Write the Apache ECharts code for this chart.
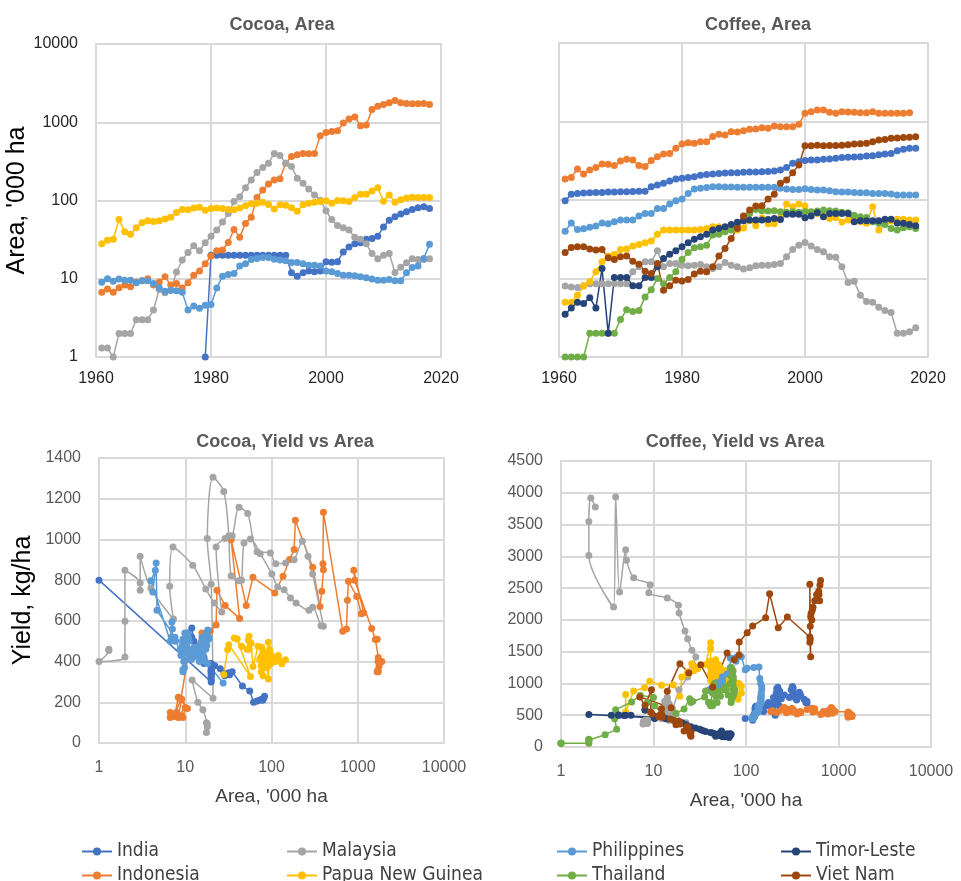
<!DOCTYPE html>
<html>
<head>
<meta charset="utf-8">
<script src="https://cdn.jsdelivr.net/npm/echarts@6/dist/echarts.min.js"></script>
<style>
  html, body { margin: 0; padding: 0; background: #fff; }
  #chart { width: 961px; height: 881px; }
</style>
</head>
<body>
<div id="chart"></div>
<script>
// years of the FAO series
const years = [
  1961, 1962, 1963, 1964, 1965, 1966, 1967, 1968, 1969, 1970,
  1971, 1972, 1973, 1974, 1975, 1976, 1977, 1978, 1979, 1980,
  1981, 1982, 1983, 1984, 1985, 1986, 1987, 1988, 1989, 1990,
  1991, 1992, 1993, 1994, 1995, 1996, 1997, 1998, 1999, 2000,
  2001, 2002, 2003, 2004, 2005, 2006, 2007, 2008, 2009, 2010,
  2011, 2012, 2013, 2014, 2015, 2016, 2017, 2018
]

// ---- cocoa, area ('000 ha) and yield (kg/ha) ----
const cocoaAreaIndia = [
  null, null, null, null, null, null, null, null, null, null,
  null, null, null, null, null, null, null, null, 1, 20,
  20, 20, 20, 20, 20, 20, 20, 20, 20, 20,
  20, 20, 20, 11.9, 10.8, 11.9, 12.6, 12.3, 12.6, 16.5,
  16.3, 16.5, 22, 25.5, 28, 28.8, 31.9, 32.7, 35, 46,
  56, 62, 67, 72, 77, 81, 83, 79
]
const cocoaYieldIndia = [
  null, null, null, null, null, null, null, null, null, null,
  null, null, null, null, null, null, null, null, 800, 300,
  320, 340, 360, 380, 390, 370, 350, 330, 310, 340,
  360, 380, 350, 520, 540, 565, 500, 450, 430, 420,
  400, 390, 380, 365, 340, 330, 345, 335, 350, 280,
  255, 200, 205, 210, 215, 220, 230, 210
]
const cocoaAreaIndonesia = [
  6.7, 7.4, 6.7, 7.7, 8.3, 7.9, 9.1, 9.4, 10, 8.3,
  9.1, 10.6, 8.3, 8.7, 7.6, 8.9, 11.1, 12.6, 15.6, 19.5,
  22.8, 23.3, 29, 42.7, 34, 51, 61, 109, 136, 162,
  183, 189, 300, 365, 383, 400, 395, 400, 670, 740,
  760, 780, 975, 1100, 1170, 900, 920, 1450, 1600, 1680,
  1770, 1900, 1770, 1730, 1720, 1720, 1730, 1680
]
const cocoaYieldIndonesia = [
  150, 130, 125, 140, 125, 150, 135, 125, 175, 130,
  215, 170, 225, 220, 140, 215, 460, 440, 540, 550,
  580, 750, 676, 611, 999, 676, 814, 737, 819, 901,
  950, 1094, 863, 671, 745, 851, 881, 1133, 549, 560,
  701, 794, 720, 635, 640, 848, 799, 562, 508, 510,
  400, 400, 380, 420, 400, 360, 350, 350
]
const cocoaAreaMalaysia = [
  1.3, 1.3, 1.0, 2, 2, 2, 3, 3, 3, 4,
  7.3, 6.6, 7.2, 12.2, 17.3, 21.7, 26.5, 22.8, 28.9, 35,
  42, 53, 68, 97, 112, 146, 183, 228, 265, 300,
  400, 375, 300, 272, 193, 166, 140, 118, 101, 74,
  57, 48, 45, 42, 34, 32, 28, 21, 18, 20,
  21, 12, 14, 16, 18, 17.6, 17.6, 18
]
const cocoaYieldMalaysia = [
  460, 455, 400, 422, 598, 848, 786, 750, 917, 760,
  609, 770, 963, 873, 757, 688, 643, 963, 1004, 1018,
  1158, 1127, 940, 933, 881, 884, 900, 991, 917, 830,
  573, 576, 667, 652, 688, 712, 753, 766, 830, 930,
  1002, 982, 800, 797, 822, 1018, 1236, 1305, 1005, 780,
  220, 310, 200, 163, 95, 100, 52, 80
]
const cocoaAreaPNG = [
  28, 31, 32, 57, 40, 37, 45, 52, 55, 54,
  55, 58, 61, 70, 77, 76, 80, 82, 75, 79,
  80, 79, 77, 76, 80, 86, 91, 92, 95, 89,
  78, 88, 87, 81, 73, 88, 92, 95, 97, 99,
  92, 100, 99, 97, 109, 120, 120, 132, 145, 98,
  118, 95, 102, 108, 110, 109, 109, 109
]
const cocoaYieldPNG = [
  336, 458, 483, 327, 511, 516, 475, 460, 524, 505,
  460, 490, 376, 475, 470, 350, 330, 400, 420, 380,
  420, 440, 400, 380, 450, 430, 410, 495, 460, 400,
  420, 370, 430, 440, 410, 390, 314, 420, 440, 410,
  380, 400, 430, 410, 420, 430, 410, 389, 409, 390,
  420, 440, 400, 420, 400, 410, 400, 420
]
const cocoaAreaPhilippines = [
  9.0, 10, 9.3, 9.9, 9.6, 9.6, 8.9, 9.4, 9.4, 8.7,
  7.7, 6.9, 7.1, 7.0, 6.7, 4.0, 4.5, 4.2, 4.6, 4.7,
  7.6, 10.8, 11.3, 11.7, 14.6, 15.6, 17.6, 18.2, 18.7, 18.7,
  17.8, 17.3, 17, 16.1, 16.1, 15.6, 14.9, 14.9, 14.6, 12.6,
  12.3, 11.7, 11.1, 11.1, 10.9, 10.6, 10.3, 9.9, 9.6, 9.6,
  9.8, 9.4, 9.4, 11.9, 13.9, 14.6, 18.2, 27.5
]
const cocoaYieldPhilippines = [
  450, 520, 480, 540, 500, 470, 430, 510, 490, 460,
  500, 520, 560, 594, 500, 797, 848, 742, 884, 652,
  520, 460, 430, 450, 420, 500, 540, 555, 520, 510,
  480, 460, 400, 430, 500, 520, 480, 420, 450, 470,
  420, 410, 430, 500, 520, 540, 510, 480, 440, 400,
  370, 350, 360, 440, 430, 400, 390, 295
]

// ---- coffee, area ('000 ha) and yield (kg/ha) ----
const coffeeAreaIndia = [
  98, 118, 121, 123, 124, 125, 125, 126, 126, 127,
  127, 128, 129, 129, 147, 155, 163, 175, 185, 189,
  194, 198, 207, 212, 215, 218, 221, 223, 223, 225,
  227, 227, 229, 231, 234, 241, 260, 294, 308, 318,
  324, 324, 330, 333, 340, 347, 350, 353, 356, 363,
  366, 377, 385, 392, 425, 443, 456, 456
]
const coffeeYieldIndia = [
  450, 420, 500, 480, 520, 550, 600, 530, 620, 640,
  580, 610, 560, 620, 620, 560, 650, 700, 620, 680,
  600, 780, 500, 850, 920, 700, 940, 760, 900, 800,
  840, 820, 650, 880, 830, 760, 820, 780, 900, 950,
  930, 850, 800, 830, 780, 820, 760, 740, 800, 820,
  830, 860, 830, 800, 750, 700, 720, 690
]
const coffeeAreaIndonesia = [
  185, 194, 248, 215, 241, 259, 288, 285, 275, 314,
  330, 324, 275, 268, 318, 356, 385, 392, 456, 517,
  538, 528, 553, 553, 642, 687, 673, 742, 735, 764,
  795, 803, 835, 819, 877, 860, 860, 860, 921, 1270,
  1335, 1400, 1400, 1310, 1270, 1335, 1320, 1310, 1295, 1295,
  1335, 1270, 1270, 1270, 1270, 1270, 1295, null
]
const coffeeYieldIndonesia = [
  560, 570, 600, 540, 580, 620, 560, 590, 560, 610,
  580, 550, 540, 600, 560, 520, 560, 540, 590, 610,
  580, 550, 560, 600, 510, 560, 530, 560, 540, 520,
  560, 590, 620, 580, 550, 530, 560, 600, 560, 550,
  520, 480, 500, 490, 500, 510, 520, 530, 520, 530,
  480, 540, 530, 500, 470, 490, 500, null
]
const coffeeAreaMalaysia = [
  8.0, 7.8, 7.7, 8.1, 8.6, 8.6, 8.6, 8.6, 8.6, 8.6,
  8.6, 12.2, 14.1, 16.3, 16.3, 22.5, 14.1, 15.5, 15.5, 14.8,
  14.5, 14.8, 15.1, 14.1, 13.4, 14.1, 16, 14.8, 14.1, 13.2,
  13.7, 14.5, 14.8, 14.8, 15.1, 15.5, 18.9, 23.4, 26.6, 28.7,
  26, 23.4, 21.9, 18.9, 18.6, 14.1, 8.9, 9.2, 6.1, 5.1,
  5.0, 4.3, 3.9, 3.7, 2.0, 2.0, 2.1, 2.35
]
const coffeeYieldMalaysia = [
  380, 400, 360, 420, 380, 400, 420, 390, 370, 400,
  420, 450, 500, 450, 420, 380, 600, 500, 460, 420,
  480, 520, 580, 650, 700, 750, 600, 680, 780, 720,
  650, 600, 560, 520, 480, 500, 900, 1100, 1300, 1416,
  1521, 1704, 1825, 2108, 2229, 2344, 2428, 2554, 2664, 2937,
  3104, 2438, 3933, 2202, 3015, 3550, 3917, 3775
]
const coffeeAreaPNG = [
  5.0, 5.0, 6.1, 8.0, 9.1, 12.2, 16.3, 19.3, 20.2, 23.4,
  23.7, 25.9, 27.2, 28.5, 30, 36.7, 41.4, 41.4, 41.4, 41.4,
  41.4, 41.4, 42.2, 43.5, 45.5, 45.5, 44, 43.5, 41.4, 44,
  55, 47, 59, 50, 50, 60, 89, 82, 89, 84,
  67.5, 67.5, 62.5, 58, 60, 52.6, 55.5, 55, 53, 50.4,
  82, 41.4, 50, 54, 57, 57, 55.5, 55.5
]
const coffeeYieldPNG = [
  828, 550, 881, 933, 1033, 970, 980, 800, 1101, 1180,
  1150, 1311, 1200, 1250, 1230, 1300, 1641, 1550, 1350, 1250,
  1150, 1300, 1200, 1100, 1000, 1150, 1300, 1250, 1050, 950,
  1100, 1374, 1200, 1300, 1150, 1050, 950, 750, 850, 1000,
  1100, 1050, 1150, 1200, 1100, 1250, 1150, 1050, 1000, 1100,
  800, 1350, 1200, 1100, 1050, 1000, 1050, 1000
]
const coffeeAreaPhilippines = [
  40, 51, 42, 43, 45, 46.5, 51, 50, 53, 55.5,
  55.5, 55.5, 62.5, 67.5, 67.5, 78, 78, 89, 98, 103,
  121, 138, 141, 144, 148, 148, 146, 146, 145, 145,
  145, 145, 145, 145, 145, 141, 138, 136, 136, 139,
  136, 134, 134, 131, 127, 126, 126, 125, 124, 124,
  121, 121, 121, 119, 116, 116, 116, 116
]
const coffeeYieldPhilippines = [
  900, 950, 880, 920, 950, 1000, 980, 1020, 950, 1000,
  1050, 1100, 1150, 1250, 1400, 1410, 1350, 1420, 1217, 1240,
  1250, 1260, 1076, 1000, 950, 900, 850, 820, 800, 780,
  760, 740, 720, 700, 690, 680, 660, 640, 620, 600,
  580, 560, 550, 540, 530, 520, 510, 500, 490, 480,
  470, 460, 470, 460, 455, 460, 450, 450
]
const coffeeAreaThailand = [
  1, 1, 1, 1, 2, 2, 2, 2, 2, 3,
  4, 3.8, 3.9, 5.8, 7.2, 10, 8.6, 10.3, 12.2, 17.5,
  21.4, 24.6, 25.4, 26.6, 35.7, 36.5, 39.4, 41.4, 47.6, 56.6,
  67.5, 75.8, 73, 72.5, 73, 71, 69.6, 71, 69.6, 71,
  71, 72.5, 74.5, 73, 72.5, 69.6, 69, 64, 61.3, 60,
  52.9, 50.4, 48.8, 43.5, 41.4, 44.3, 45.5, 43.5
]
const coffeeYieldThailand = [
  60, 60, 60, 60, 60, 110, 120, 115, 100, 194,
  278, 446, 587, 708, 813, 780, 700, 650, 535, 530,
  598, 760, 700, 720, 787, 880, 700, 650, 800, 900,
  1000, 900, 1100, 1200, 1050, 1150, 1250, 1000, 1100, 1200,
  1180, 900, 850, 950, 800, 750, 700, 820, 900, 950,
  800, 880, 700, 650, 700, 900, 1000, 850
]
const coffeeAreaTimor = [
  3.5, 4.2, 5.0, 4.8, 5.7, 4.2, 13.4, 2.0, 10.3, 10.3,
  10.3, 8.1, 8.1, 10.3, 10.3, 14.1, 18, 20.4, 22.5, 25.4,
  28.5, 31.7, 34, 36.5, 41.4, 43.5, 45.5, 48.8, 51.9, 54.4,
  55.5, 55.5, 55.5, 56.6, 58.3, 56.6, 65.6, 65.6, 65.6, 59.5,
  62.5, 69, 61.3, 67.5, 67.5, 67.5, 67.5, 52.9, 54.4, 54.4,
  54.4, 54.4, 57, 57, 51, 50.4, 48.8, 47
]
const coffeeYieldTimor = [
  500, 505, 500, 495, 500, 500, 450, 510, 470, 480,
  460, 590, 580, 460, 450, 440, 400, 380, 350, 320,
  300, 280, 260, 245, 230, 220, 210, 200, 190, 185,
  180, 170, 165, 175, 160, 170, 150, 160, 170, 190,
  210, 200, 180, 190, 200, 210, 180, 200, 230, 250,
  220, 190, 180, 200, 210, 190, 180, 170
]
const coffeeAreaVietNam = [
  21.4, 24.9, 25.4, 25.4, 23.7, 23, 23.4, 18.4, 17.5, 18.9,
  19.3, 16.6, 15.2, 12.4, 11.6, 15.5, 7.1, 8.1, 9.5, 9.3,
  9.7, 11.4, 12.4, 12.2, 14.1, 19.3, 24.1, 32.4, 43.5, 62.5,
  74.5, 84, 84.5, 103, 118, 163, 180, 223, 280, 490,
  490, 500, 490, 495, 495, 500, 505, 515, 520, 530,
  553, 580, 590, 610, 615, 625, 630, 640
]
const coffeeYieldVietNam = [
  250, 200, 170, 230, 300, 320, 280, 380, 350, 400,
  360, 420, 440, 470, 500, 619, 787, 655, 900, 551,
  520, 480, 500, 600, 876, 1311, 1164, 1295, 944, 1479,
  1374, 1447, 1652, 1799, 1903, 2035, 2412, 1877, 2045, 1730,
  2560, 1420, 1650, 1700, 1900, 2050, 2100, 2000, 2150, 2200,
  2300, 2400, 2350, 2450, 2400, 2300, 2550, 2620
]

const colors = {
  'India': '#4472C4',
  'Indonesia': '#ED7D31',
  'Malaysia': '#A5A5A5',
  'Papua New Guinea': '#FFC000',
  'Philippines': '#5B9BD5',
  'Thailand': '#70AD47',
  'Timor-Leste': '#264478',
  'Viet Nam': '#9E480E'
}

const FONT = "'Liberation Sans', Arial, sans-serif"
const NARROW = "'Liberation Sans Narrow', 'DejaVu Sans Condensed', 'Liberation Sans', sans-serif"

function pairs (xs, ys) {
  return xs.map((x, i) => (x == null || ys[i] == null) ? null : [x, ys[i]]).filter(p => p)
}

function mkSeries (name, idx, xs, ys, smooth) {
  return {
    name: name,
    type: 'line',
    xAxisIndex: idx,
    yAxisIndex: idx,
    data: pairs(xs, ys),
    symbol: 'circle',
    symbolSize: 7,
    smooth: smooth ? 0.3 : false,
    color: colors[name],
    lineStyle: { width: 1.5, color: colors[name] },
    itemStyle: { color: colors[name] },
    emphasis: { disabled: true }
  }
}

const cocoa = [
  ['India', cocoaAreaIndia, cocoaYieldIndia],
  ['Indonesia', cocoaAreaIndonesia, cocoaYieldIndonesia],
  ['Malaysia', cocoaAreaMalaysia, cocoaYieldMalaysia],
  ['Papua New Guinea', cocoaAreaPNG, cocoaYieldPNG],
  ['Philippines', cocoaAreaPhilippines, cocoaYieldPhilippines]
]
const coffee = [
  ['India', coffeeAreaIndia, coffeeYieldIndia],
  ['Indonesia', coffeeAreaIndonesia, coffeeYieldIndonesia],
  ['Malaysia', coffeeAreaMalaysia, coffeeYieldMalaysia],
  ['Papua New Guinea', coffeeAreaPNG, coffeeYieldPNG],
  ['Philippines', coffeeAreaPhilippines, coffeeYieldPhilippines],
  ['Thailand', coffeeAreaThailand, coffeeYieldThailand],
  ['Timor-Leste', coffeeAreaTimor, coffeeYieldTimor],
  ['Viet Nam', coffeeAreaVietNam, coffeeYieldVietNam]
]

const series = []
cocoa.forEach(c => series.push(mkSeries(c[0], 0, years, c[1])))
coffee.forEach(c => series.push(mkSeries(c[0], 1, years, c[1])))
cocoa.forEach(c => series.push(mkSeries(c[0], 2, c[1], c[2], c[0] === 'Malaysia')))
coffee.forEach(c => series.push(mkSeries(c[0], 3, c[1], c[2], c[0] === 'Malaysia')))

const gridLine = { show: true, lineStyle: { color: '#d9d9d9', width: 2 } }
const plainFmt = v => String(Math.round(v))

function yearAxis (gi) {
  return {
    gridIndex: gi, type: 'value', min: 1960, max: 2020, interval: 20,
    axisLine: { show: false }, axisTick: { show: false }, splitLine: gridLine,
    axisLabel: { fontSize: 16, color: '#262626', fontFamily: FONT, margin: 14, formatter: plainFmt }
  }
}
function areaLogX (gi) {
  return {
    gridIndex: gi, type: 'log', logBase: 10, min: 1, max: 10000,
    axisLine: { show: false }, axisTick: { show: false }, splitLine: gridLine,
    axisLabel: { fontSize: 16, color: '#595959', fontFamily: FONT, margin: 17, formatter: plainFmt },
    name: "Area, '000 ha", nameLocation: 'middle', nameGap: 44,
    nameTextStyle: { fontSize: 19, color: '#404040', fontFamily: FONT }
  }
}
// one legend per entry, placed in a 4 x 2 block
function legendItem (name, left, top) {
  return {
    data: [name], left: left, top: top, orient: 'horizontal',
    itemWidth: 30, itemHeight: 10, selectedMode: false,
    textStyle: { fontSize: 19, color: '#404040', fontFamily: NARROW }
  }
}
const titleStyle = { fontSize: 18, fontWeight: 'bold', color: '#595959', fontFamily: FONT }

const option = {
  animation: false,
  backgroundColor: '#fff',
  title: [
    { text: 'Cocoa, Area', left: 277, top: 11, textAlign: 'center', textStyle: titleStyle },
    { text: 'Coffee, Area', left: 753, top: 11, textAlign: 'center', textStyle: titleStyle },
    { text: 'Cocoa, Yield vs Area', left: 280, top: 428, textAlign: 'center', textStyle: titleStyle },
    { text: 'Coffee, Yield vs Area', left: 730, top: 428, textAlign: 'center', textStyle: titleStyle }
  ],
  legend: [
    legendItem('India', 76, 837),
    legendItem('Indonesia', 76, 861),
    legendItem('Malaysia', 281, 837),
    legendItem('Papua New Guinea', 281, 861),
    legendItem('Philippines', 551, 837),
    legendItem('Thailand', 551, 861),
    legendItem('Timor-Leste', 775, 837),
    legendItem('Viet Nam', 775, 861)
  ],
  grid: [
    { left: 96, top: 44, width: 345, height: 313, show: true, borderColor: '#d9d9d9', borderWidth: 2 },
    { left: 559, top: 43, width: 369, height: 314, show: true, borderColor: '#d9d9d9', borderWidth: 2 },
    { left: 99, top: 458, width: 345, height: 285, show: true, borderColor: '#d9d9d9', borderWidth: 2 },
    { left: 561, top: 461, width: 370, height: 286, show: true, borderColor: '#d9d9d9', borderWidth: 2 }
  ],
  xAxis: [yearAxis(0), yearAxis(1), areaLogX(2), areaLogX(3)],
  yAxis: [
    {
      gridIndex: 0, type: 'log', logBase: 10, min: 1, max: 10000,
      axisLine: { show: false }, axisTick: { show: false }, splitLine: gridLine,
      axisLabel: { fontSize: 16, color: '#262626', fontFamily: FONT, margin: 18, formatter: plainFmt },
      name: "Area, '000 ha", nameLocation: 'middle', nameGap: 62,
      nameTextStyle: { fontSize: 25, color: '#000', fontFamily: FONT }
    },
    {
      gridIndex: 1, type: 'log', logBase: 10, min: 1, max: 10000,
      axisLine: { show: false }, axisTick: { show: false }, splitLine: gridLine,
      axisLabel: { show: false }
    },
    {
      gridIndex: 2, type: 'value', min: 0, max: 1400, interval: 200,
      axisLine: { show: false }, axisTick: { show: false }, splitLine: gridLine,
      axisLabel: { fontSize: 16, color: '#595959', fontFamily: FONT, margin: 18, formatter: plainFmt },
      name: 'Yield, kg/ha', nameLocation: 'middle', nameGap: 63,
      nameTextStyle: { fontSize: 25, color: '#000', fontFamily: FONT }
    },
    {
      gridIndex: 3, type: 'value', min: 0, max: 4500, interval: 500,
      axisLine: { show: false }, axisTick: { show: false }, splitLine: gridLine,
      axisLabel: { fontSize: 16, color: '#595959', fontFamily: FONT, margin: 18, formatter: plainFmt }
    }
  ],
  series: series
}

const myChart = echarts.init(document.getElementById('chart'), null, { renderer: 'canvas' })
myChart.setOption(option)
</script>
</body>
</html>
